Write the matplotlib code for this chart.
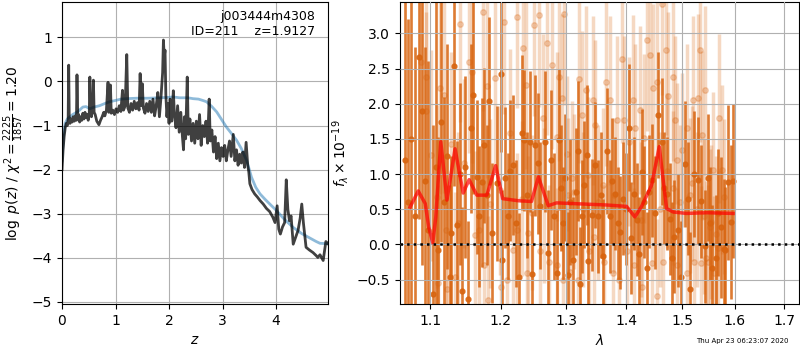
import matplotlib
matplotlib.use('Agg')
import matplotlib.pyplot as plt
import matplotlib.ticker as plticker
import numpy as np

# ---- p(z) panel ----
z_pz = [0.00, 0.02, 0.04, 0.06, 0.08, 0.10, 0.115, 0.125, 0.135, 0.15, 0.17, 0.19, 0.21, 0.23, 0.25,
        0.27, 0.28, 0.295, 0.31, 0.33, 0.35, 0.37, 0.39, 0.41, 0.43, 0.45, 0.47, 0.49, 0.51, 0.52,
        0.535, 0.55, 0.57, 0.587, 0.60, 0.62, 0.65, 0.69, 0.72, 0.75, 0.78, 0.80, 0.83, 0.86, 0.875,
        0.89, 0.905, 0.92, 0.95, 0.98, 1.01, 1.04, 1.07, 1.10, 1.13, 1.15, 1.18, 1.21, 1.23, 1.26,
        1.29, 1.32, 1.35, 1.38, 1.41, 1.44, 1.46, 1.48, 1.50, 1.52, 1.55, 1.58, 1.61, 1.64, 1.67,
        1.70, 1.73, 1.76, 1.79, 1.82, 1.85, 1.88, 1.895, 1.91, 1.925, 1.94, 1.96, 1.98, 2.00, 2.02,
        2.05, 2.08, 2.10, 2.13, 2.16, 2.19, 2.22, 2.25, 2.27, 2.29, 2.31, 2.34, 2.36, 2.39, 2.42,
        2.45, 2.48, 2.51, 2.54, 2.57, 2.60, 2.63, 2.66, 2.69, 2.72, 2.75, 2.77, 2.80, 2.83, 2.86,
        2.89, 2.92, 2.95, 2.98, 3.01, 3.04, 3.07, 3.10, 3.13, 3.16, 3.20, 3.23, 3.26, 3.29, 3.32,
        3.35, 3.38, 3.41, 3.44, 3.47, 3.49, 3.51, 3.55, 3.60, 3.65, 3.70, 3.76, 3.82, 3.88, 3.94,
        3.98, 4.02, 4.05, 4.08, 4.12, 4.16, 4.19, 4.22, 4.25, 4.28, 4.32, 4.36, 4.41, 4.45, 4.48,
        4.51, 4.56, 4.62, 4.69, 4.75, 4.78, 4.82, 4.86, 4.88, 4.91, 4.93, 4.97]
logp = [-2.00, -1.55, -1.25, -1.05, -0.95, -1.00, -0.85, 0.37, -0.80, -0.95, -0.85, -0.92, -0.80, -0.90, -0.78,
        -0.88, 0.15, -0.85, -0.75, -0.92, -0.80, -0.88, -0.72, -0.85, -0.70, -0.82, -0.75, -0.88, -0.70, 0.10,
        -0.68, -0.80, -0.60, 0.03, -0.70, -0.75, -0.90, -0.98, -0.88, -0.80, -0.70, -0.78, -0.65, -0.02, -0.70,
        -0.55, -0.08, -0.72, -0.65, -0.75, -0.62, -0.70, -0.55, -0.68, -0.20, -0.65, -0.55, 0.61, -0.60, -0.70,
        -0.50, -0.65, -0.45, -0.62, -0.48, -0.65, 0.18, -0.55, -0.05, -0.60, -0.72, -0.50, -0.68, -0.45, -0.70,
        -0.40, -0.78, -0.55, -0.25, -0.80, -0.35, 0.20, 0.94, 0.55, 0.71, -0.30, -0.80, -0.50, -0.95, -0.40,
        -0.90, -0.21, -0.75, -1.05, -0.55, -1.15, -0.70, -1.25, -1.55, -0.80, -1.30, 0.10, -1.20, -0.85, -1.35,
        -0.95, -1.40, -0.90, -1.30, -0.75, -1.45, -1.00, -1.25, -0.90, -1.40, -0.40, -1.35, -1.10, -1.60, -1.25,
        -1.75, -1.40, -1.80, -1.50, -1.70, -1.45, -1.80, -1.55, -1.35, -1.70, -1.20, -1.80, -1.55, -1.90, -1.65,
        -1.85, -1.60, -1.95, -1.38, -1.90, -2.05, -2.32, -2.45, -2.55, -2.62, -2.70, -2.78, -2.88, -2.95, -3.08,
        -3.20, -2.82, -3.35, -3.46, -3.30, -3.20, -2.23, -2.90, -3.16, -3.05, -3.69, -3.55, -3.38, -3.10, -2.78,
        -3.20, -3.76, -3.82, -3.88, -3.95, -3.99, -3.93, -4.02, -4.06, -3.80, -3.63, -3.68]

z_prior = [0.00, 0.03, 0.06, 0.10, 0.20, 0.30, 0.39, 0.45, 0.52, 0.60, 0.70, 0.80, 0.89, 1.00, 1.10,
           1.20, 1.40, 1.60, 1.83, 2.00, 2.07, 2.20, 2.35, 2.45, 2.55, 2.63, 2.70, 2.80, 2.89, 2.98,
           3.07, 3.16, 3.26, 3.35, 3.45, 3.50, 3.54, 3.62, 3.70, 3.80, 3.90, 4.01, 4.15, 4.32, 4.48,
           4.63, 4.75, 4.82, 4.97]
logp_prior = [-1.80, -1.20, -0.95, -0.85, -0.75, -0.68, -0.58, -0.57, -0.62, -0.58, -0.55, -0.50, -0.46, -0.43, -0.40,
              -0.39, -0.38, -0.38, -0.37, -0.36, -0.35, -0.37, -0.37, -0.39, -0.40, -0.43, -0.46, -0.57, -0.69, -0.86,
              -1.03, -1.17, -1.33, -1.52, -1.79, -2.00, -2.17, -2.40, -2.55, -2.68, -2.80, -2.93, -3.12, -3.31, -3.45,
              -3.55, -3.63, -3.67, -3.68]

# ---- spectrum panel ----
wave_a = [1.066, 1.070, 1.075, 1.080, 1.085, 1.089, 1.093, 1.097, 1.1045, 1.1077, 1.1113, 1.115, 1.119, 1.1227,
          1.1273, 1.1287, 1.1333, 1.1376, 1.141, 1.1446, 1.1484, 1.1531, 1.1564, 1.1602, 1.1649, 1.168, 1.172,
          1.1754, 1.179, 1.1826, 1.1874, 1.1938, 1.1997, 1.2021, 1.206, 1.210, 1.214, 1.2184, 1.222, 1.2269,
          1.2309, 1.235, 1.2395, 1.2436, 1.2472, 1.2513, 1.2554, 1.259, 1.2668, 1.272, 1.2761, 1.2814, 1.285,
          1.2887, 1.2925, 1.2956, 1.299, 1.3025, 1.307, 1.3116, 1.3155, 1.3197, 1.3224, 1.3251, 1.329, 1.3333,
          1.336, 1.3426, 1.347, 1.3526, 1.357, 1.3609, 1.3665, 1.3721, 1.376, 1.3806, 1.385, 1.3891, 1.394,
          1.3988, 1.4045, 1.408, 1.4132, 1.418, 1.4219, 1.4266, 1.431, 1.4354, 1.440, 1.4454, 1.450, 1.4561,
          1.4633, 1.4671, 1.4711, 1.4771, 1.481, 1.485, 1.4911, 1.4972, 1.5046, 1.5108, 1.5139, 1.5219, 1.5295,
          1.5345, 1.5421, 1.5471, 1.551, 1.556, 1.5624, 1.5675, 1.5726, 1.5791, 1.5815, 1.5868, 1.5933, 1.5965]
flux_a = [1.20, 0.60, 1.50, 0.40, 2.66, 1.90, 0.90, 0.21, -0.70, 1.10, -0.08, 1.74, 0.60, 1.25,
          -0.46, 0.16, 2.53, 0.27, 1.00, -0.67, 1.10, -0.77, 1.65, 2.12, 0.96, 0.40, 0.88,
          1.41, 0.70, 2.04, 0.16, 0.87, 2.42, -0.22, 0.95, 0.40, 1.05, 1.13, 0.30, -0.46,
          1.59, 1.48, 0.70, 1.46, -0.42, 1.41, 1.15, 0.55, 1.46, -0.12, 1.20, 0.40, -0.41,
          1.49, 0.80, 0.30, 0.95, -0.44, 0.60, -0.22, 0.75, 1.33, -0.56, 0.40, 0.85, 1.27,
          -0.23, 0.42, 1.13, 0.40, 0.70, -0.16, 1.33, 0.40, 0.90, 0.72, 0.30, 0.17, 0.65,
          0.50, 1.66, 0.09, 0.72, 0.35, -0.13, 1.03, 0.60, -0.34, 0.75, 0.91, 0.45, 1.84,
          1.46, 0.80, 0.72, 0.36, -0.20, 0.11, 0.20, -0.47, 1.14, 0.65, -0.63, 1.00, 0.91,
          0.61, -0.03, 0.95, 0.30, -0.34, -0.20, 0.45, 0.24, -0.07, -0.08, 0.88, 0.32, 0.90]
err_a = [3.0, 2.6, 2.8, 2.4, 2.3, 2.2, 1.9, 2.4, 2.4, 2.5, 1.6, 1.7, 1.5, 1.6,
         1.3, 1.1, 1.7, 1.2, 1.3, 1.2, 1.3, 1.1, 1.2, 1.4, 1.1, 1.0, 1.2,
         1.1, 1.0, 1.2, 1.0, 1.1, 1.1, 1.0, 1.0, 0.9, 1.0, 1.0, 0.9, 0.9,
         1.1, 1.0, 0.9, 1.0, 0.9, 1.0, 1.0, 0.9, 1.0, 0.9, 1.0, 0.9, 0.9,
         1.0, 0.9, 0.8, 0.9, 0.9, 0.9, 0.9, 0.9, 1.0, 0.8, 0.8, 0.9, 1.0,
         0.8, 0.8, 0.9, 0.8, 0.9, 0.8, 0.9, 0.8, 0.9, 0.8, 0.8, 0.8, 0.8,
         0.8, 0.9, 0.8, 0.8, 0.8, 0.8, 0.9, 0.8, 0.8, 0.8, 0.8, 0.8, 0.9,
         0.9, 0.8, 0.8, 0.8, 0.8, 0.8, 0.8, 0.8, 0.9, 0.8, 0.8, 0.9, 0.9,
         0.8, 0.8, 0.9, 0.8, 0.9, 0.9, 0.9, 1.0, 1.0, 0.9, 1.1, 1.1, 1.1]

wave_b = [1.0878, 1.0941, 1.0946, 1.1009, 1.1090, 1.1104, 1.1136, 1.1195, 1.1218, 1.1227, 1.1287, 1.1342,
          1.1389, 1.1417, 1.1469, 1.1545, 1.1578, 1.1626, 1.1688, 1.1746, 1.1760, 1.1794, 1.1804, 1.1843,
          1.1916, 1.1989, 1.1999, 1.2049, 1.2088, 1.2136, 1.2184, 1.2236, 1.2246, 1.2313, 1.2338, 1.2369,
          1.2389, 1.2414, 1.2465, 1.2506, 1.2568, 1.2584, 1.2644, 1.2654, 1.2694, 1.2737, 1.2773, 1.2850,
          1.2861, 1.2893, 1.2930, 1.2946, 1.2967, 1.3009, 1.3036, 1.3062, 1.3089, 1.3127, 1.3197, 1.3208,
          1.3251, 1.3268, 1.3322, 1.3360, 1.3377, 1.3432, 1.3454, 1.3470, 1.3526, 1.3609, 1.3620, 1.3654,
          1.3721, 1.3778, 1.3795, 1.3834, 1.3880, 1.3920, 1.3960, 1.4005, 1.4051, 1.4120, 1.4132, 1.4149,
          1.4237, 1.4248, 1.4266, 1.4307, 1.4354, 1.4413, 1.4442, 1.4472, 1.4531, 1.4543, 1.4591, 1.4621,
          1.4651, 1.4699, 1.4723, 1.4741, 1.4820, 1.4832, 1.4863, 1.4893, 1.4905, 1.4954, 1.4985, 1.5077,
          1.5090, 1.5139, 1.5170, 1.5200, 1.5213, 1.5263, 1.5295, 1.5326, 1.5339, 1.5358, 1.5401, 1.5420,
          1.5451, 1.5483, 1.5527, 1.5546, 1.5578, 1.5591, 1.5642, 1.5674, 1.5693, 1.5758, 1.5784]
flux_b = [2.59, 2.38, 1.90, 1.27, 0.68, -0.55, 2.22, 2.13, 0.20, -0.63, 1.43, -0.46,
          0.30, 3.14, 1.15, 2.60, 2.45, 0.13, 0.20, 3.30, -0.29, 2.25, -0.79, 0.58,
          2.36, 0.77, -0.60, 3.16, -0.51, 1.58, -0.08, 0.20, 3.24, 0.65, 2.79, 2.27,
          -0.41, 0.16, 0.45, 3.12, 3.26, -0.10, 1.79, 0.55, 2.86, -0.25, 2.55, 1.53,
          -0.30, 2.38, 2.08, -0.51, 3.28, 1.29, 0.70, -0.39, 0.94, 0.75, -0.51, 2.35,
          1.84, 0.50, 2.19, 0.99, -0.10, 2.05, 0.10, 1.70, 0.60, 0.84, -0.25, 2.31,
          2.05, -0.41, 0.70, 1.77, -0.51, 2.64, 1.77, -0.10, 1.46, 2.06, -0.30, 1.65,
          1.91, 0.35, -0.60, 1.51, 2.91, 2.69, -0.27, 2.22, -0.74, 2.31, 0.50, 3.42,
          -0.25, 2.76, 1.05, 2.11, 2.38, 0.80, 1.77, -0.30, 1.20, 0.60, 1.34, 1.65,
          -0.40, 0.70, 0.87, 2.05, -0.25, 0.50, 2.08, 2.76, -0.27, 1.55, 0.40, 2.19,
          -0.20, -0.25, 0.25, 0.32, 1.06, -0.41, 0.15, -0.05, 1.79, 1.06, 0.68]
err_b = [1.6, 1.5, 1.4, 1.5, 1.3, 1.4, 1.5, 1.4, 1.3, 1.3, 1.3, 1.2,
         1.3, 1.4, 1.2, 1.3, 1.3, 1.2, 1.2, 1.4, 1.2, 1.3, 1.2, 1.2,
         1.3, 1.2, 1.1, 1.3, 1.2, 1.2, 1.1, 1.1, 1.3, 1.1, 1.3, 1.2,
         1.1, 1.1, 1.1, 1.3, 1.3, 1.1, 1.2, 1.1, 1.3, 1.1, 1.2, 1.2,
         1.1, 1.2, 1.2, 1.1, 1.3, 1.1, 1.1, 1.1, 1.1, 1.1, 1.1, 1.2,
         1.2, 1.1, 1.2, 1.1, 1.1, 1.2, 1.1, 1.2, 1.1, 1.1, 1.1, 1.2,
         1.2, 1.1, 1.1, 1.2, 1.1, 1.2, 1.2, 1.1, 1.2, 1.2, 1.1, 1.2,
         1.2, 1.1, 1.1, 1.2, 1.3, 1.2, 1.1, 1.2, 1.1, 1.2, 1.1, 1.3,
         1.1, 1.2, 1.1, 1.2, 1.2, 1.1, 1.2, 1.1, 1.1, 1.1, 1.1, 1.2,
         1.1, 1.1, 1.1, 1.2, 1.1, 1.1, 1.2, 1.3, 1.1, 1.2, 1.1, 1.2,
         1.1, 1.1, 1.1, 1.1, 1.1, 1.1, 1.1, 1.1, 1.2, 1.2, 1.1]

wave_model = [1.0733, 1.084, 1.0934, 1.098, 1.1036, 1.1077, 1.1145, 1.123, 1.1342, 1.1456, 1.154,
              1.165, 1.1795, 1.1923, 1.2026, 1.2265, 1.246, 1.2566, 1.272, 1.285, 1.3116, 1.3665,
              1.4006, 1.4149, 1.4266, 1.4442, 1.4579, 1.4711, 1.4833, 1.5077, 1.5452, 1.5965]
flux_model = [0.53, 0.76, 0.58, 0.25, 0.02, 0.39, 1.46, 0.63, 1.36, 0.73, 0.92,
              0.70, 0.70, 1.12, 0.65, 0.62, 0.61, 0.96, 0.55, 0.59, 0.58, 0.56,
              0.54, 0.39, 0.54, 0.84, 1.39, 0.51, 0.46, 0.44, 0.45, 0.44]

spec_color = '#d8640f'

fig = plt.figure(figsize=(8, 3.5), dpi=100)

ax = fig.add_axes([0.0775, 0.131, 0.3325, 0.863])
ax.plot(z_prior, logp_prior, color='tab:blue', alpha=0.5, lw=2)
ax.plot(z_pz, logp, color='k', alpha=0.75, lw=2)
ax.set_xlim(0, 4.97)
ax.set_ylim(-5.05, 1.8)
ax.set_xticks([0, 1, 2, 3, 4])
ax.set_yticks([-5, -4, -3, -2, -1, 0, 1])
ax.grid(True)
ax.set_xlabel(r'$z$')
ax.set_ylabel(r'$\log\ p(z)$' + ' / ' + r'$\chi^2=\frac{2225}{1857}=1.20$')
ax.text(0.95, 0.975, 'j003444m4308\nID=211    z=1.9127', ha='right', va='top',
        transform=ax.transAxes, fontsize=9)

ax2 = fig.add_axes([0.5, 0.131, 0.4992, 0.863])
ax2.set_xscale('log')
ax2.errorbar(wave_b, flux_b, yerr=err_b, marker='o', ms=4, linestyle='None',
             color=spec_color, alpha=0.25, elinewidth=2.5, zorder=1)
ax2.errorbar(wave_a, flux_a, yerr=err_a, marker='o', ms=3.5, linestyle='None',
             color=spec_color, alpha=0.85, elinewidth=1.9, zorder=2)
ax2.plot(wave_model, flux_model, color='r', alpha=0.7, lw=2.5, zorder=4)
ax2.axhline(0, color='k', linestyle=':', lw=1.8, zorder=5)
ax2.set_xlim(1.060, 1.732)
ax2.set_ylim(-0.85, 3.445)
ax2.xaxis.set_major_locator(plticker.FixedLocator([1.1, 1.2, 1.3, 1.4, 1.5, 1.6, 1.7]))
ax2.xaxis.set_major_formatter(plticker.FormatStrFormatter('%.1f'))
ax2.xaxis.set_minor_locator(plticker.NullLocator())
ax2.yaxis.set_major_locator(plticker.MultipleLocator(0.5))
ax2.set_axisbelow(False)
ax2.grid(True, zorder=3)
ax2.set_xlabel(r'$\lambda$')
ax2.set_ylabel(r'$f_\lambda \times 10^{-19}$')

fig.text(0.928, 0.027, 'Thu Apr 23 06:23:07 2020', ha='center', va='center', fontsize=5)

fig.savefig('out.png', dpi=100)
